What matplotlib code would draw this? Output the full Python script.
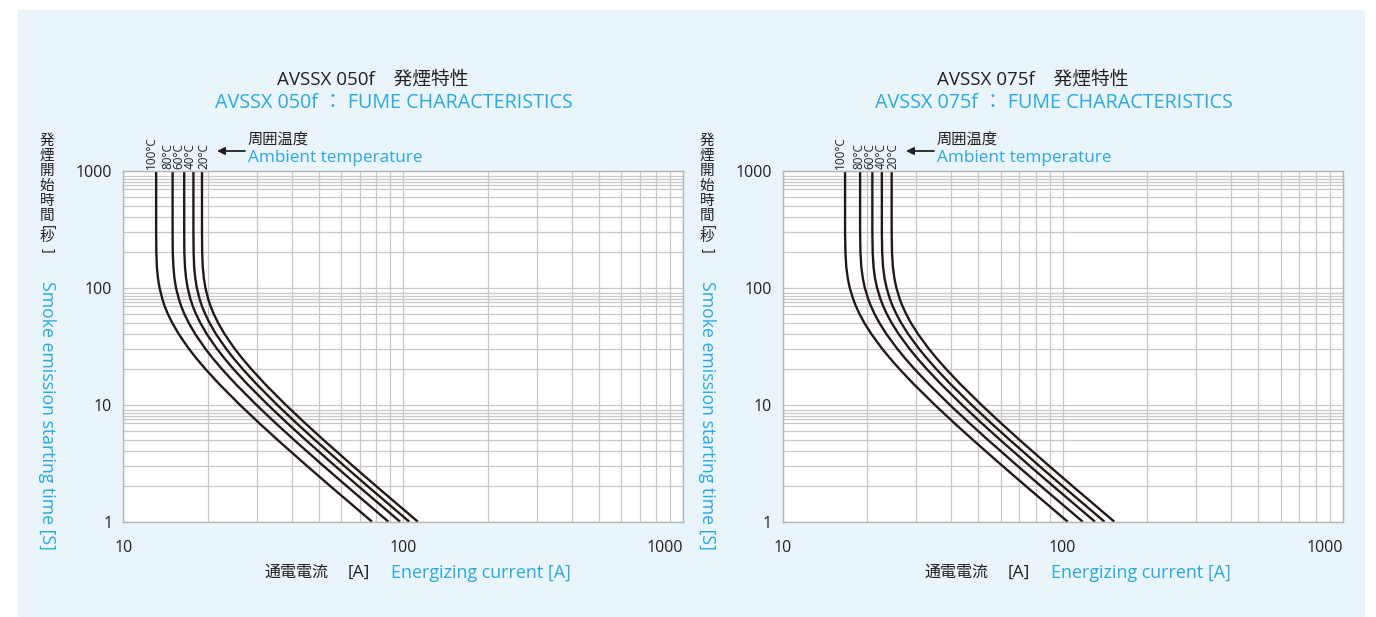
import matplotlib.pyplot as plt
from matplotlib.patches import Rectangle
from matplotlib.ticker import FixedLocator, LogLocator, NullFormatter

plt.rcParams['font.family'] = ['Open Sans', 'Noto Sans CJK JP', 'DejaVu Sans']

W, H = 1376, 617
DARK = '#231f20'
BLUE = '#29a9e1'
GRIDC = '#c8c8c8'

# time axis [s], shared by all curves
time_s = [1000, 300, 200, 150, 120, 100, 80, 70, 60, 50, 40, 30, 25, 20, 15, 10, 7, 5, 3, 2, 1]
temp_labels = ['100°C', '80°C', '60°C', '40°C', '20°C']

# AVSSX 050f: current [A] for each ambient temperature
i050_100 = [13.1, 13.1, 13.12, 13.18, 13.3, 13.47, 13.79, 14.04, 14.41, 14.96, 15.79, 17.16, 18.21, 19.71, 22.01, 26.05, 30.49, 35.57, 45.27, 55.05, 77.3]
i050_80 = [15.0, 15.0, 15.02, 15.1, 15.23, 15.42, 15.79, 16.08, 16.5, 17.13, 18.08, 19.65, 20.85, 22.57, 25.2, 29.83, 34.91, 40.73, 51.84, 63.03, 88.5]
i050_60 = [16.5, 16.5, 16.52, 16.61, 16.76, 16.97, 17.36, 17.69, 18.15, 18.84, 19.89, 21.61, 22.94, 24.82, 27.72, 32.81, 38.4, 44.8, 57.02, 69.33, 97.35]
i050_40 = [17.8, 17.8, 17.83, 17.91, 18.08, 18.3, 18.73, 19.08, 19.58, 20.32, 21.45, 23.31, 24.74, 26.78, 29.91, 35.4, 41.43, 48.33, 61.52, 74.8, 105.0]
i050_20 = [19.1, 19.1, 19.13, 19.22, 19.4, 19.64, 20.1, 20.48, 21.01, 21.81, 23.02, 25.01, 26.55, 28.74, 32.09, 37.98, 44.46, 51.86, 66.01, 80.26, 112.7]

# AVSSX 075f
i075_100 = [16.7, 16.7, 16.75, 16.87, 17.08, 17.35, 17.85, 18.24, 18.78, 19.57, 20.76, 22.68, 24.14, 26.21, 29.37, 34.88, 40.91, 47.8, 60.92, 74.13, 104.2]
i075_80 = [18.9, 18.9, 18.95, 19.09, 19.33, 19.64, 20.2, 20.64, 21.26, 22.15, 23.49, 25.67, 27.32, 29.66, 33.24, 39.47, 46.3, 54.09, 68.95, 83.9, 117.9]
i075_60 = [20.9, 20.9, 20.96, 21.11, 21.37, 21.72, 22.34, 22.83, 23.51, 24.49, 25.98, 28.38, 30.21, 32.8, 36.75, 43.65, 51.2, 59.82, 76.24, 92.78, 130.4]
i075_40 = [22.6, 22.6, 22.66, 22.83, 23.11, 23.49, 24.15, 24.68, 25.42, 26.49, 28.09, 30.69, 32.67, 35.47, 39.74, 47.2, 55.36, 64.68, 82.44, 100.3, 141.0]
i075_20 = [24.5, 24.5, 24.57, 24.75, 25.06, 25.46, 26.18, 26.76, 27.56, 28.71, 30.46, 33.27, 35.42, 38.45, 43.08, 51.17, 60.02, 70.12, 89.38, 108.8, 152.9]


def fx(x):
    return x / W


def fy(y):
    return 1 - y / H


def draw_panel(fig, left_px, curves, model, dx, note_dx, label_shift):
    ax = fig.add_axes([fx(left_px), fy(521.7), 560 / W, 351 / H])
    ax.set_xscale('log')
    ax.set_yscale('log')
    ax.set_xlim(10, 1000)
    ax.set_ylim(1, 1000)

    # the printed grid also has lines at 7.5 and 8.5 of each decade
    yminor = [m * 10 ** k for k in range(3) for m in (2, 3, 4, 5, 6, 7, 7.5, 8, 8.5, 9)]
    ax.yaxis.set_minor_locator(FixedLocator(yminor))
    ax.xaxis.set_minor_locator(LogLocator(base=10, subs=range(2, 10)))
    ax.xaxis.set_minor_formatter(NullFormatter())
    ax.yaxis.set_minor_formatter(NullFormatter())
    ax.set_xticks([10, 100, 1000])
    ax.set_xticklabels(['10', '100', '1000'])
    ax.set_yticks([1, 10, 100, 1000])
    ax.set_yticklabels(['1', '10', '100', '1000'])
    ax.get_xticklabels()[2].set_horizontalalignment('right')
    ax.tick_params(which='both', length=0, labelsize=11.5, colors=DARK)
    ax.tick_params(axis='x', pad=13)
    ax.tick_params(axis='y', pad=8)
    ax.grid(True, which='both', color=GRIDC, lw=0.9)
    ax.set_axisbelow(True)
    for s in ax.spines.values():
        s.set_color('#b5b5b5')
        s.set_linewidth(1.0)

    for cur, lab, sh in zip(curves, temp_labels, label_shift):
        ax.plot(cur, time_s, color='#231815', lw=1.7, solid_capstyle='butt')
        ax.annotate(lab, xy=(cur[0], 1), xycoords=('data', 'axes fraction'),
                    xytext=(sh * 0.72, 1.5), textcoords='offset points', rotation=90,
                    ha='center', va='bottom', fontsize=8.5, color=DARK)

    # titles
    fig.text(fx(372.5 + dx), fy(79), f'AVSSX {model}\u3000発煙特性', ha='center', va='center',
             fontsize=13.5, color=DARK)
    fig.text(fx(393.5 + dx), fy(103), f'AVSSX {model} ： FUME CHARACTERISTICS', ha='center',
             va='center', fontsize=14.2, color=BLUE)

    # ambient temperature note
    fig.text(fx(248 + note_dx), fy(140), '周囲温度', ha='left', va='center', fontsize=11, color=DARK)
    fig.text(fx(248 + note_dx), fy(158), 'Ambient temperature', ha='left', va='center',
             fontsize=12.3, color=BLUE)
    fig.add_artist(plt.Annotation('', xy=(fx(217 + note_dx), fy(151)), xytext=(fx(245 + note_dx), fy(151)),
                                  xycoords='figure fraction', textcoords='figure fraction',
                                  arrowprops=dict(arrowstyle='-|>', color=DARK, lw=1.3,
                                                  mutation_scale=11, shrinkA=0, shrinkB=0)))

    # y labels (Japanese set vertically, brackets turned)
    lx = 47 + dx
    for i, ch in enumerate('発煙開始時間'):
        fig.text(fx(lx), fy(141.5 + 15 * i), ch, ha='center', va='center', fontsize=10.5, color=DARK)
    fig.text(fx(lx), fy(227), '[', ha='center', va='center', fontsize=10, rotation=-90, color=DARK)
    fig.text(fx(lx), fy(237), '秒', ha='center', va='center', fontsize=10.5, color=DARK)
    fig.text(fx(lx), fy(250), ']', ha='center', va='center', fontsize=10, rotation=-90, color=DARK)
    fig.text(fx(lx), fy(415), 'Smoke emission starting time [S]', ha='center', va='center',
             rotation=-90, fontsize=12.7, color=BLUE)

    # x labels
    fig.text(fx(265 + dx), fy(573), '通電電流', ha='left', va='center', fontsize=11.5, color=DARK)
    fig.text(fx(348 + dx), fy(573), '[A]', ha='left', va='center', fontsize=12.5, color=DARK)
    fig.text(fx(391 + dx), fy(573), 'Energizing current [A]', ha='left', va='center',
             fontsize=12.9, color=BLUE)
    return ax


fig = plt.figure(figsize=(W / 100, H / 100), dpi=100, facecolor='white')
fig.add_artist(Rectangle((fx(18), 0), fx(1347), fy(10), transform=fig.transFigure,
                         facecolor='#eaf4fb', edgecolor='none', zorder=-10))

draw_panel(fig, 123.3, [i050_100, i050_80, i050_60, i050_40, i050_20], '050f', 0, 0,
           [-4.5, -5, -5.5, -3, 1.5])
draw_panel(fig, 782.7, [i075_100, i075_80, i075_60, i075_40, i075_20], '075f', 660, 689,
           [-5, -1.5, -2.5, -1, 1.5])

fig.savefig('out.png', dpi=100, facecolor='white')
